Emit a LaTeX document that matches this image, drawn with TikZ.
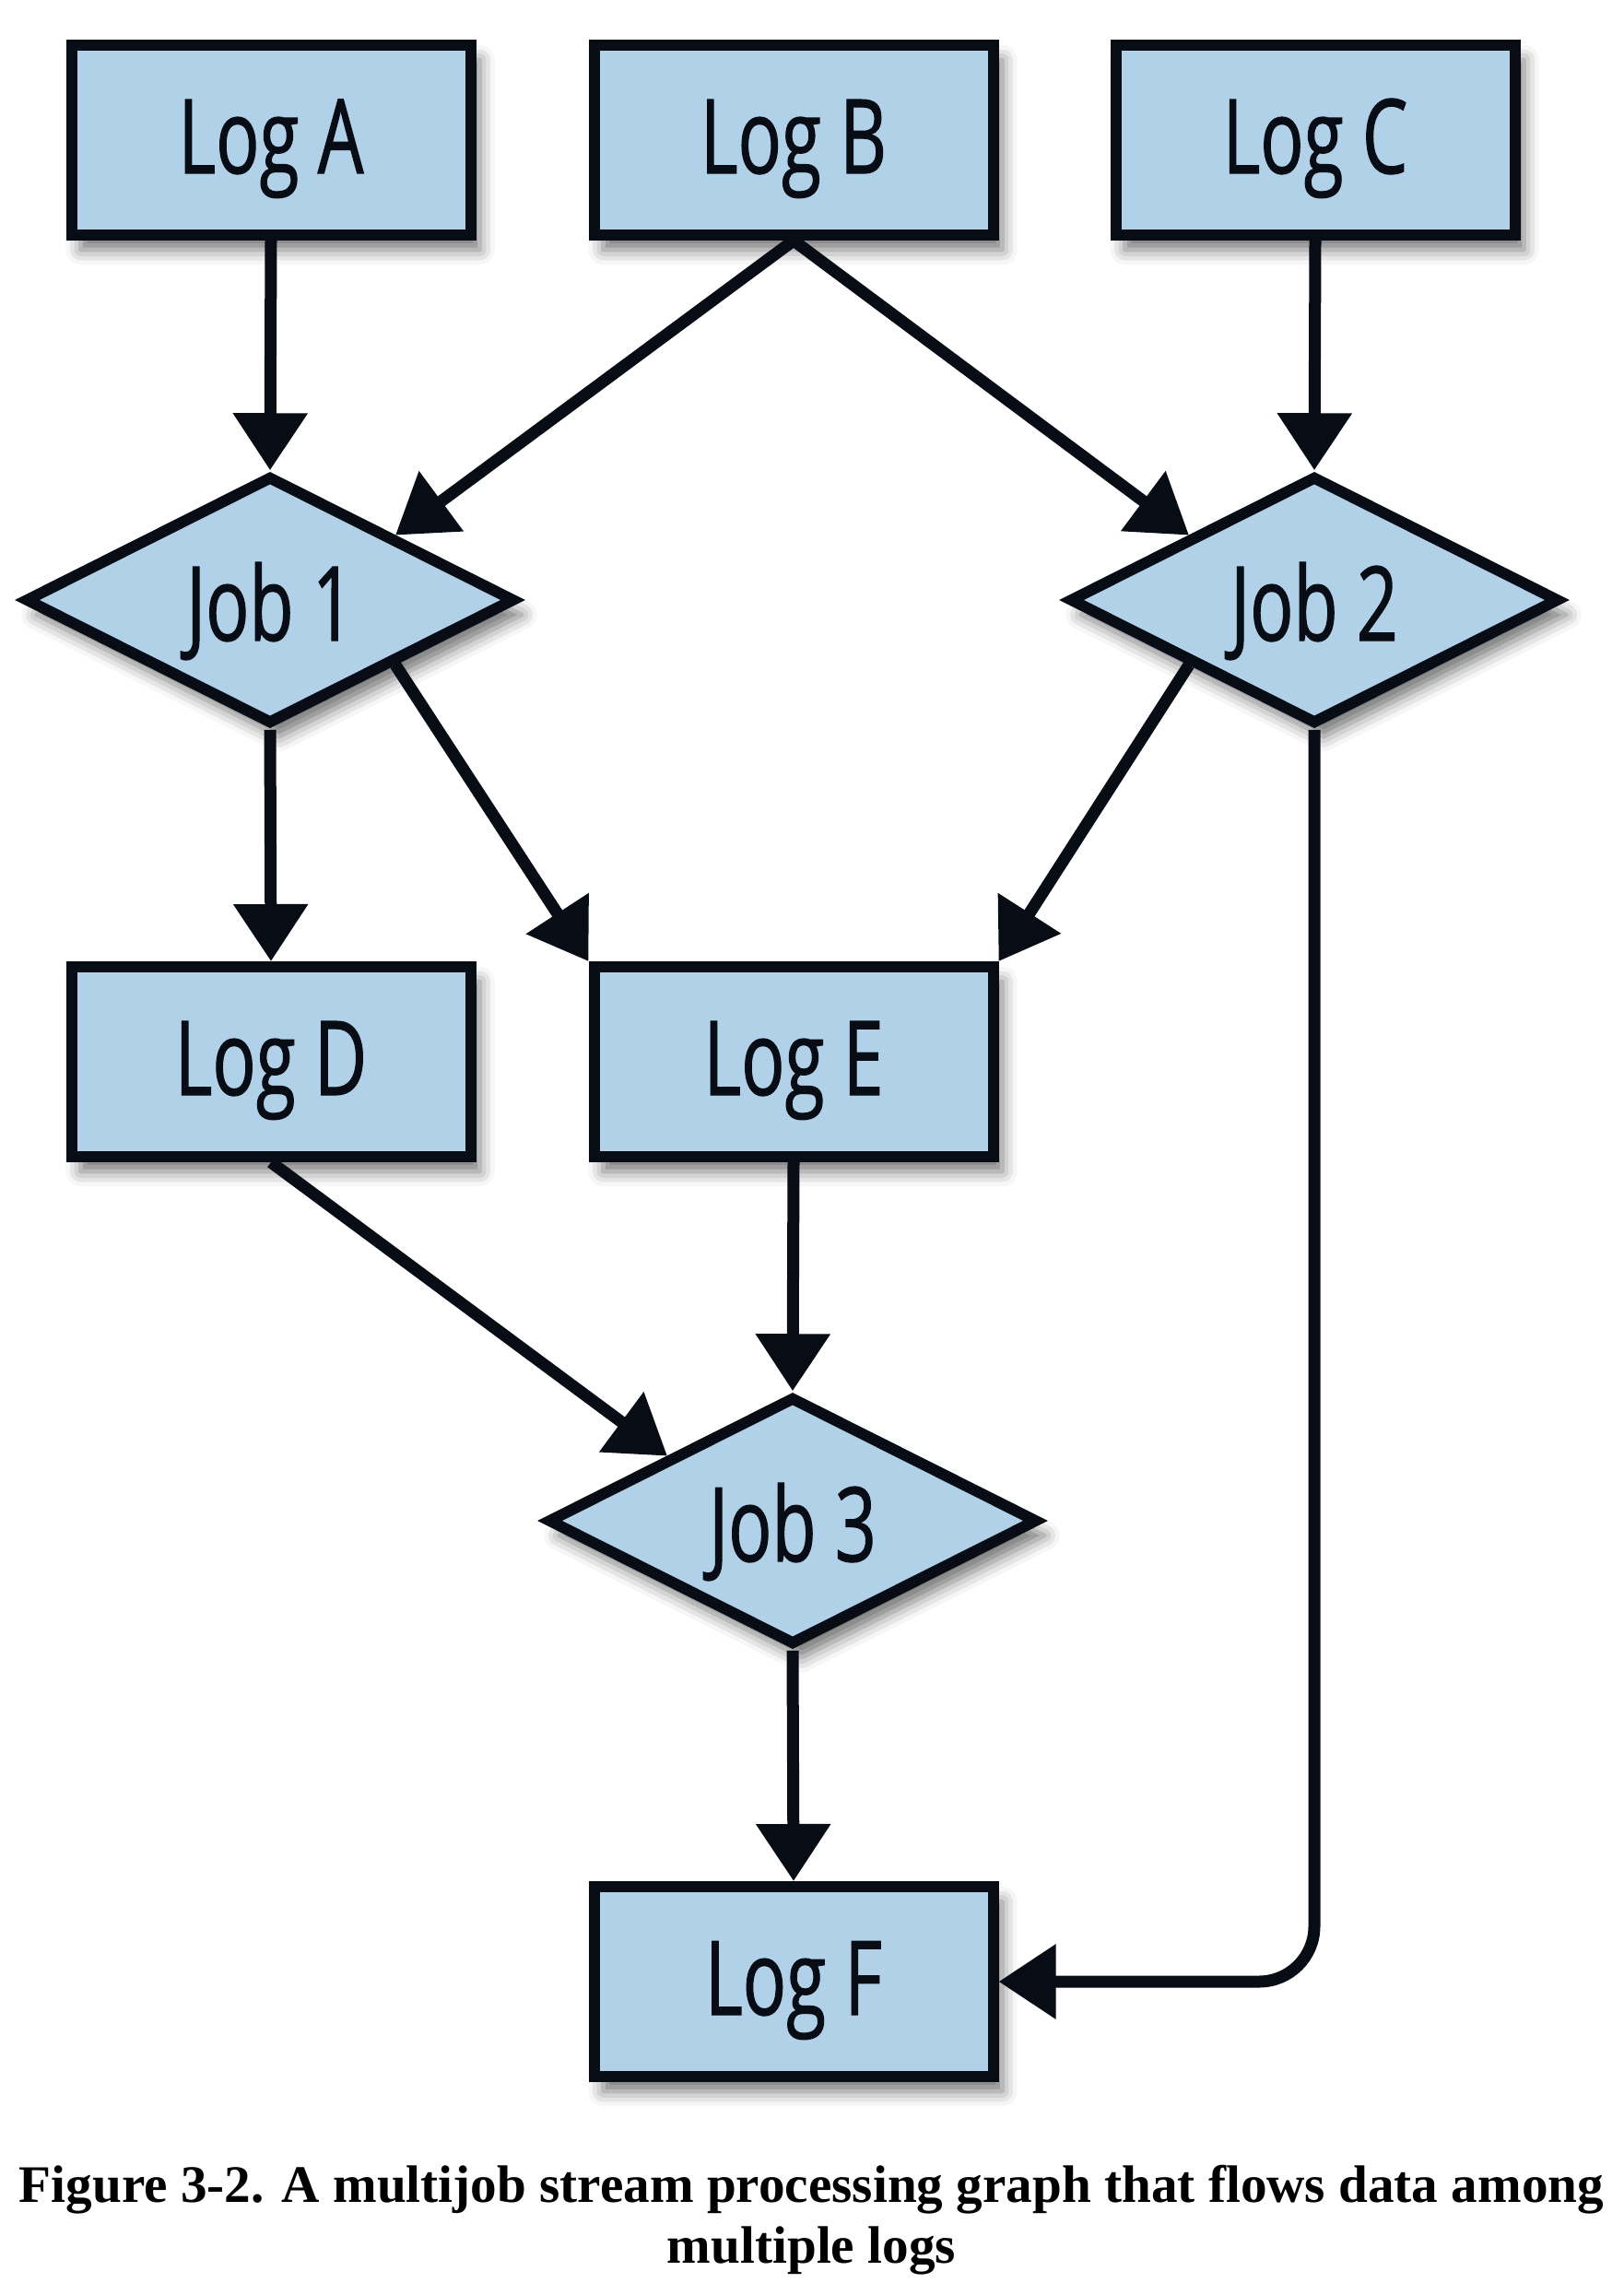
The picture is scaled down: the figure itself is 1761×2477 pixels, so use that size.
\documentclass[tikz,border=0pt]{standalone}
\usepackage{fontspec}
\setmainfont{Liberation Serif}
\newfontfamily\labelfont[FakeStretch=0.7,FakeBold=1]{Open Sans}
\usetikzlibrary{arrows.meta,shapes.geometric,shadows.blur}
\definecolor{boxblue}{RGB}{176,209,232}
\definecolor{inkblack}{RGB}{8,12,20}
\begin{document}
\begin{tikzpicture}[x=0.5pt,y=-0.5pt,
  basenode/.style={draw=inkblack, line width=6pt, fill=boxblue, text=inkblack,
    font=\labelfont\fontsize{56}{60}\selectfont, inner sep=0pt,
    blur shadow={shadow xshift=5pt, shadow yshift=-8pt, shadow blur radius=8pt, shadow opacity=55}},
  logbox/.style={basenode, rectangle, minimum width=216.5pt, minimum height=103pt,
    text height=40pt, text depth=4pt},
  jobdiamond/.style={basenode, diamond, minimum width=266pt, minimum height=130pt,
    text height=44pt, text depth=0pt},
  flow/.style={draw=inkblack, line width=6.5pt, -{Triangle[length=31pt,width=39pt]}},
  captext/.style={font=\bfseries\fontsize{28.6}{33}\selectfont, anchor=base, inner sep=0pt},
]
\useasboundingbox (0,0) rectangle (1761,2477);

\node[logbox] (logA) at (294,152) {Log A};
\node[logbox] (logB) at (861,152) {Log B};
\node[logbox] (logC) at (1427,152) {Log C};
\node[jobdiamond] (job1) at (293,651) {Job 1};
\node[jobdiamond] (job2) at (1426,651) {Job 2};
\node[logbox] (logD) at (294,1152) {Log D};
\node[logbox] (logE) at (861,1152) {Log E};
\node[jobdiamond] (job3) at (860,1650) {Job 3};
\node[logbox] (logF) at (861,2150) {Log F};

\draw[flow] (logA.south) -- (job1.north);
\draw[flow] (logB.south) -- (job1.north east);
\draw[flow] (logB.south) -- (job2.north west);
\draw[flow] (logC.south) -- (job2.north);
\draw[flow] (job1.south) -- (logD.north);
\draw[flow] (job1.south east) -- (logE.north west);
\draw[flow] (job2.south west) -- (logE.north east);
\draw[flow] (logD.south) -- (job3.north west);
\draw[flow] (logE.south) -- (job3.north);
\draw[flow] (job3.south) -- (logF.north);
\draw[flow, rounded corners=30pt] (job2.south) |- (logF.east);

\node[captext] (cap1) at (880.5,2389) {Figure 3-2. A multijob stream processing graph that flows data among};
\node[captext] (cap2) at (880.5,2455) {multiple logs};
\end{tikzpicture}
\end{document}
